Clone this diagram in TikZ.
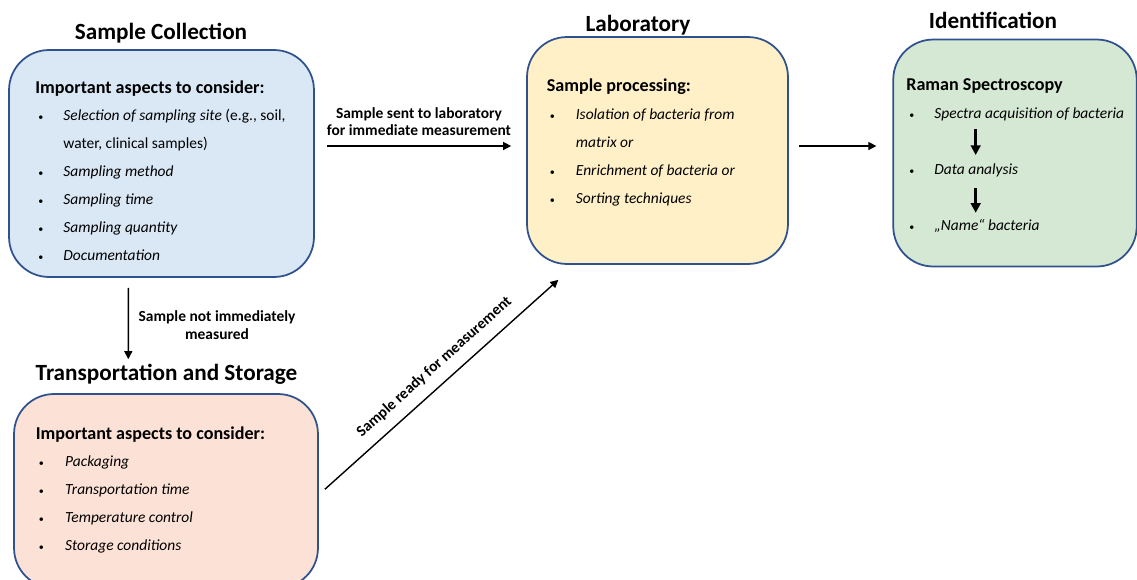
\documentclass[tikz,border=0pt]{standalone}
\usepackage{fontspec}
\setmainfont{Carlito}
\usepackage{tikz}
\usetikzlibrary{arrows.meta}
\usetikzlibrary{positioning}

\definecolor{boxline}{HTML}{2F528F}
\definecolor{collectfill}{HTML}{DAE8F5}
\definecolor{labfill}{HTML}{FFF0C8}
\definecolor{identfill}{HTML}{D5E8D4}
\definecolor{transfill}{HTML}{FCE1D6}

\tikzset{
  box/.style={draw=boxline, line width=1pt, rounded corners=0.8cm, inner sep=0pt},
  title/.style={anchor=base, inner sep=0pt, font=\fontsize{13.2}{15}\selectfont\bfseries},
  list/.style={anchor=base west, inner sep=0pt, font=\fontsize{8.8}{15.93}\selectfont},
  item/.style={anchor=base west, inner sep=0pt, font=\fontsize{8.8}{10}\selectfont\itshape},
  flow/.style={->, line width=0.8pt, >={Triangle[length=4.5pt, width=4.5pt]}},
  steparrow/.style={->, line width=1.6pt, >={Triangle[length=5.5pt, width=5.5pt]}},
  flowlabel/.style={font=\fontsize{8.8}{10.1}\selectfont\bfseries, align=center, inner sep=0pt}
}
\newcommand{\bul}{\hspace{1.7pt}\scalebox{0.65}{\upshape\textbullet}}
\newcommand{\head}[1]{\multicolumn{2}{@{}l@{}}{\fontsize{10.3}{15.93}\selectfont\bfseries #1}}

\begin{document}
\begin{tikzpicture}[x=0.02cm, y=-0.02cm]
          \useasboundingbox (0,0) rectangle (1137,579);
          \clip (0,0) rectangle (1137,579);

          % boxes
          \node (collect) [box, fill=collectfill, minimum width=6.1cm, minimum height=4.54cm] at (161.5,163.5) {};
          \node (lab) [box, fill=labfill, minimum width=5.22cm, minimum height=4.54cm] at (657.5,150.5) {};
          \node (ident) [box, fill=identfill, minimum width=4.87cm, minimum height=4.54cm] at (1015,153) {};
          \node (transport) [box, fill=transfill, minimum width=6.08cm, minimum height=3.88cm] at (166,491) {};

          % titles
          \node (collecttitle) [title] at (161,39.3) {Sample Collection};
          \node (labtitle) [title] at (638,31) {Laboratory};
          \node (identtitle) [title] at (993,28) {Identification};
          \node (transtitle) [title] at (166.5,380) {Transportation and Storage};

          % box contents
          \node (collectlist) [list] at (35,93) {\begin{tabular}[t]{@{}p{16pt}@{}l@{}}
            \head{Important aspects to consider:}\\
            \bul & \textit{Selection of sampling site} (e.g., soil,\\
                 & water, clinical samples)\\
            \bul & \textit{Sampling method}\\
            \bul & \textit{Sampling time}\\
            \bul & \textit{Sampling quantity}\\
            \bul & \textit{Documentation}
          \end{tabular}};
          \node (lablist) [list] at (546.5,91.7) {\begin{tabular}[t]{@{}p{16.5pt}@{}l@{}}
            \head{Sample processing:}\\
            \bul & \textit{Isolation of bacteria from}\\
                 & \textit{matrix or}\\
            \bul & \textit{Enrichment of bacteria or}\\
            \bul & \textit{Sorting techniques}
          \end{tabular}};
          \node (translist) [list] at (35.5,439) {\begin{tabular}[t]{@{}p{16.7pt}@{}l@{}}
            \head{Important aspects to consider:}\\
            \bul & \textit{Packaging}\\
            \bul & \textit{Transportation time}\\
            \bul & \textit{Temperature control}\\
            \bul & \textit{Storage conditions}
          \end{tabular}};

          \node (raman) [list, font=\fontsize{10.3}{12}\selectfont\bfseries] at (906,90) {Raman Spectroscopy};
          \node (spectra) [item] at (906,118.3) {\makebox[16pt][l]{\bul}Spectra acquisition of bacteria};
          \node (analysis) [item] at (906,174) {\makebox[16pt][l]{\bul}Data analysis};
          \node (naming) [item] at (906,230) {\makebox[16pt][l]{\bul}„Name“ bacteria};
          \coordinate (stepx) at (975.7,0);

          \draw[steparrow] ([yshift=-6.1pt]spectra.base -| stepx) -- ([yshift=10.8pt]analysis.base -| stepx);
          \draw[steparrow] ([yshift=-8pt]analysis.base -| stepx) -- ([yshift=9.8pt]naming.base -| stepx);

          % connectors
          \draw[flow] ([shift={(12,-17.5)}]collect.east) -- node[flowlabel, above=5.3pt] {Sample sent to laboratory\\for immediate measurement} ([shift={(-15,-4.5)}]lab.west);
          \draw[flow] ([shift={(10,-4.5)}]lab.east) -- ([shift={(-16,-7)}]ident.west);
          \draw[flow] ([shift={(-33.2,10)}]collect.south) -- node[flowlabel, right=5.5pt, yshift=-1pt] {Sample not immediately\\measured} ([shift={(-37.7,-34)}]transport.north);
          \draw[flow] ([shift={(6,-1.7)}]transport.east) -- node[flowlabel, above=6pt, sloped, pos=0.52] {Sample ready for measurement} ([shift={(-99.2,15)}]lab.south);

        \end{tikzpicture}
\end{document}
